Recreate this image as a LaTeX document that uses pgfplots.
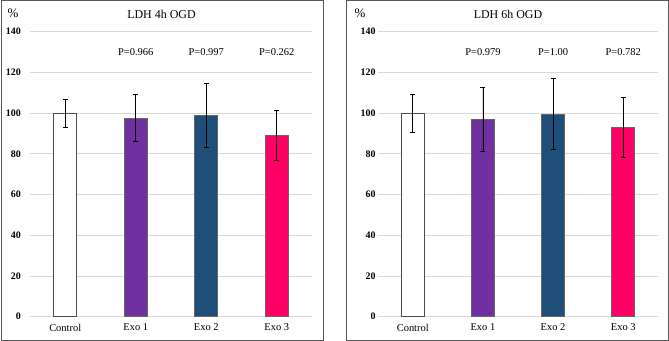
\documentclass[border=0pt]{standalone}
\usepackage{fontspec}
\setmainfont{Liberation Serif}
\usepackage{pgfplots}
\pgfplotsset{compat=1.18}
\definecolor{cpurple}{HTML}{7030A0}
\definecolor{cblue}{HTML}{1F4E79}
\definecolor{cpink}{HTML}{FF0066}
\definecolor{cgrid}{HTML}{D9D9D9}
\definecolor{cframe}{HTML}{595959}
\tikzset{pl/.style={font=\fontsize{10.5}{12}\selectfont}}
\pgfplotsset{
  panel/.style={
    scale only axis, height=285bp,
    ymin=0, ymax=140, ytick={0,20,...,140},
    xmin=-0.5, xmax=3.5, xtick={0,1,2,3},
    xticklabels={Control,Exo 1,Exo 2,Exo 3},
    axis line style={draw=none}, tick style={draw=none}, major tick length=0pt,
    ymajorgrids, grid style={cgrid, line width=0.8bp},
    ybar, bar width=23bp, bar shift=0pt,
    /pgf/number format/assume math mode=true,
    yticklabel style={font=\bfseries\fontsize{10}{12}\selectfont, anchor=east, inner sep=0pt},
    xticklabel style={font=\fontsize{10.5}{12}\selectfont, anchor=north, inner sep=0pt, yshift=-7bp},
    clip=false,
    error bars/y dir=both, error bars/y explicit,
    error bars/error bar style={black, line width=0.8bp},
    error bars/error mark options={rotate=90, mark size=2.5bp, black, line width=0.8bp},
  },
}
\begin{document}
\begin{tikzpicture}
\useasboundingbox (0,0) rectangle (669bp,341bp);
% Left panel
\begin{axis}[panel, width=282bp, at={(30bp,24.3bp)}, anchor=south west,
  yticklabel style={xshift=-9bp}]
\addplot[fill=white, draw=black!70, line width=0.6bp] coordinates {(0,100) +- (0,6.8)};
\addplot[fill=cpurple, draw=black!60, line width=0.6bp] coordinates {(1,97.6) +- (0,11.5)};
\addplot[fill=cblue, draw=black!60, line width=0.6bp] coordinates {(2,98.9) +- (0,15.6)};
\addplot[fill=cpink, draw=black!60, line width=0.6bp] coordinates {(3,89.1) +- (0,12.4)};
\node[pl] at (axis cs:1,129.8) {P=0.966};
\node[pl] at (axis cs:2,129.8) {P=0.997};
\node[pl] at (axis cs:3,129.8) {P=0.262};
\end{axis}
% Right panel
\begin{axis}[panel, width=280.6bp, at={(377.7bp,24.3bp)}, anchor=south west,
  yticklabel style={xshift=-2bp}]
\addplot[fill=white, draw=black!70, line width=0.6bp] coordinates {(0,100) +- (0,9.3)};
\addplot[fill=cpurple, draw=black!60, line width=0.6bp] coordinates {(1,97.1) +- (0,15.7)};
\addplot[fill=cblue, draw=black!60, line width=0.6bp] coordinates {(2,99.6) +- (0,17.4)};
\addplot[fill=cpink, draw=black!60, line width=0.6bp] coordinates {(3,93.0) +- (0,14.6)};
\node[pl] at (axis cs:1,129.8) {P=0.979};
\node[pl] at (axis cs:2,129.8) {P=1.00};
\node[pl] at (axis cs:3,129.8) {P=0.782};
\end{axis}
\draw[cframe, line width=1bp] (1bp,1bp) rectangle (323bp,340bp);
\draw[cframe, line width=1bp] (346bp,1bp) rectangle (668bp,340bp);
\node[font=\fontsize{12}{14}\selectfont] at (161.5bp,327bp) {LDH 4h OGD};
\node[font=\fontsize{12}{14}\selectfont] at (508bp,327bp) {LDH 6h OGD};
\node[font=\fontsize{13}{14}\selectfont] at (13bp,327.5bp) {\%};
\node[font=\fontsize{13}{14}\selectfont] at (360bp,327.5bp) {\%};
\end{tikzpicture}
\end{document}
